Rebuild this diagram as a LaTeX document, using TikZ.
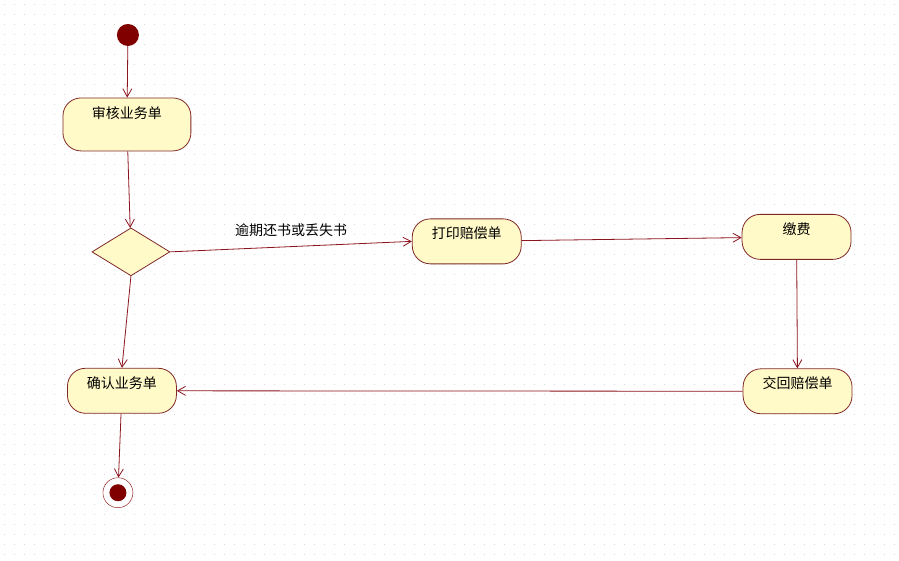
\documentclass[tikz,border=0pt]{standalone}
\usepackage{fontspec}
\setmainfont{Noto Sans CJK SC}
\usepackage{tikz}
\usetikzlibrary{positioning, arrows.meta, shapes.geometric}
\definecolor{umlline}{RGB}{140,20,30}
\definecolor{umlborder}{RGB}{128,40,40}
\definecolor{umlfill}{RGB}{255,250,200}
\definecolor{umldot}{RGB}{128,0,0}

\begin{document}
\begin{tikzpicture}[
    x=1pt, y=-1pt,
    font=\fontsize{14}{16}\selectfont,
    action/.style={draw=umlborder, fill=umlfill, rectangle, rounded corners=18pt,
                   minimum width=109pt, inner xsep=3pt, inner ysep=3pt,
                   text height=17pt, text depth=22pt, thick},
    decision/.style={draw=umlborder, fill=umlfill, diamond, minimum width=78pt,
                     minimum height=48pt, inner sep=0pt, thick},
    arrow/.style={-{Straight Barb[length=8pt, width=9pt]}, draw=umlline, thick}
]
% background
\fill[white] (0,0) rectangle (899,561);
\foreach \y in {5,15,...,555}
  \draw[gray!30, line width=1pt, dash pattern=on 1pt off 9pt] (4,\y) -- (899,\y);
\useasboundingbox (0,0) rectangle (899,561);

\node[circle, fill=umldot, minimum size=22pt, inner sep=0pt] (start) at (128,35) {};
\node[action, minimum width=128pt, text height=18pt, text depth=29pt] (audit) at (127,124.5) {审核业务单};
\node[decision] (choice) at (131,252) {};
\node[action] (print) at (467,241.5) {打印赔偿单};
\node[action] (pay) at (797,237) {缴费};
\node[action] (return) at (798,391.5) {交回赔偿单};
\node[action] (confirm) at (122,391) {确认业务单};
\node[circle, draw=umldot, fill=white, minimum size=30pt, inner sep=0pt] (stop) at (118,493) {};
\node[circle, fill=umldot, minimum size=17pt, inner sep=0pt] at (stop) {};

\draw[arrow] (start) -- (audit);
\draw[arrow] (audit) -- (choice);
\draw[arrow] (choice.east) -- node[above=6pt] {逾期还书或丢失书} (print.west);
\draw[arrow] (print) -- (pay);
\draw[arrow] (pay) -- (return);
\draw[arrow] (return) -- (confirm);
\draw[arrow] (choice.south) -- (confirm.north);
\draw[arrow] (confirm) -- (stop);
\end{tikzpicture}
\end{document}
